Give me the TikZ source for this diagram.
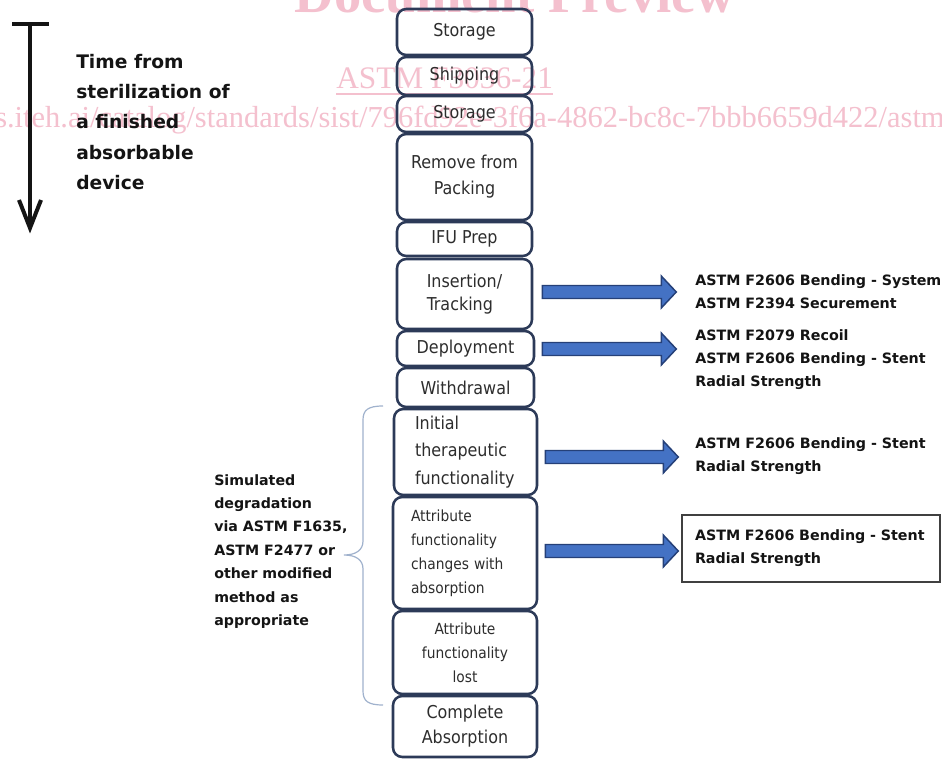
\documentclass[tikz,border=0pt]{standalone}
\usepackage{fontspec}
\setmainfont{DejaVu Sans}
\newfontfamily\boxfont{DejaVu Sans Condensed}
\newfontfamily\wmfont{Liberation Serif}
\usetikzlibrary{calc}
\definecolor{boxline}{RGB}{44,58,88}
\definecolor{boxtext}{RGB}{45,45,45}
\definecolor{arrowfill}{RGB}{68,114,196}
\definecolor{arrowline}{RGB}{37,64,120}
\definecolor{bracecol}{RGB}{160,178,205}
\definecolor{wmpink}{RGB}{244,192,206}
\definecolor{inktext}{RGB}{20,20,20}
\newcommand{\blockarrow}[2]{%
  \draw[blockarrowstyle] ($(#1)+(0,-6.5)$) -- ($(#2)+(-15,-6.5)$) -- ($(#2)+(-15,-16)$) -- (#2)
    -- ($(#2)+(-15,16)$) -- ($(#2)+(-15,6.5)$) -- ($(#1)+(0,6.5)$) -- cycle;}
\begin{document}
\begin{tikzpicture}[x=0.75pt,y=-0.75pt,
  stage/.style={draw=boxline, line width=1.9pt, rounded corners=7pt, inner sep=0pt,
    text=boxtext, align=center, font=\boxfont\fontsize{13.3}{19.5}\selectfont},
  smallstage/.style={stage, font=\boxfont\fontsize{11.5}{18}\selectfont},
  bigtext/.style={inner sep=0pt, text=inktext, align=left, font=\bfseries\fontsize{14}{22.8}\selectfont},
  testtext/.style={inner sep=0pt, text=inktext, align=left, font=\bfseries\fontsize{10.7}{17.25}\selectfont},
  blockarrowstyle/.style={fill=arrowfill, draw=arrowline, line width=1.1pt, line join=miter},
  timeline/.style={line width=3pt, draw=inktext},
  wm/.style={inner sep=0pt, text=wmpink}
]
\fill[white] (0,0) rectangle (942,759);
\useasboundingbox (0,0) rectangle (942,759);

% watermark
\begin{scope}
\clip (0,0) rectangle (942,759);
\node[wm, font=\wmfont\bfseries\fontsize{41}{41}\selectfont, anchor=base] (wm1) at (515,13) {Document Preview};
\node[wm, font=\wmfont\fontsize{23.5}{23.5}\selectfont, anchor=base west] (wm2) at (336,89) {ASTM F3036-21};
\draw[wmpink, line width=1.1pt] ($(wm2.base west)+(0,5)$) -- ($(wm2.base east)+(0,5)$);
\node[wm, font=\wmfont\fontsize{22.85}{22.85}\selectfont, anchor=base west] (wm3) at (-5,128) {s.iteh.ai/catalog/standards/sist/796fd92e-3f6a-4862-bc8c-7bbb6659d422/astm};
\end{scope}

% time arrow
\coordinate (tTop) at (30,24);
\coordinate (tBot) at (30,228);
\coordinate (tBarL) at (12,24);
\coordinate (tBarR) at (49,24);
\draw[timeline, line width=3.3pt] (tBarL) -- (tBarR);
\draw[timeline] (tTop) -- ($(tBot)+(0,-2)$);
\draw[timeline, line join=miter] ($(tBot)+(-11,-28)$) -- (tBot) -- ($(tBot)+(11,-28)$);
\node[bigtext, anchor=west] (timelbl) at (76,122) {Time from\\sterilization of\\a finished\\absorbable\\device};

% stages
\node[stage, minimum width=101.25pt, minimum height=34.5pt] (storage1) at (464.5,32) {Storage};
\node[stage, minimum width=101.25pt, minimum height=28.5pt] (shipping) at (464.5,76) {Shipping};
\node[stage, minimum width=101.25pt, minimum height=27pt] (storage2) at (464.5,114) {Storage};
\node[stage, minimum width=101.25pt, minimum height=64.5pt] (remove) at (464.5,177) {Remove from\\Packing};
\node[stage, minimum width=101.25pt, minimum height=25.5pt] (ifu) at (464.5,239) {IFU Prep};
\node[stage, minimum width=101.25pt, minimum height=52.5pt, align=left, font=\boxfont\fontsize{13.3}{16.8}\selectfont] (insertion) at (464.5,294) {Insertion/\\Tracking};
\node[stage, minimum width=102.75pt, minimum height=26.25pt] (deployment) at (465.5,348.5) {Deployment};
\node[stage, minimum width=102.75pt, minimum height=29.25pt] (withdrawal) at (465.5,387.5) {Withdrawal};
\node[stage, minimum width=107.25pt, minimum height=64.5pt, align=left, inner xsep=15.75pt, text width=75.75pt, font=\boxfont\fontsize{13.3}{20.5}\selectfont] (initial) at (465.5,452) {Initial\\therapeutic\\functionality};
\node[smallstage, minimum width=108pt, minimum height=84pt, align=left, inner xsep=13.5pt, text width=81pt] (attrchange) at (465,553) {Attribute\\functionality\\changes with\\absorption};
\node[smallstage, minimum width=108pt, minimum height=62.25pt] (lost) at (465,652.5) {Attribute\\functionality\\lost};
\node[stage, minimum width=108pt, minimum height=45.75pt, font=\boxfont\fontsize{13.3}{18.75}\selectfont] (complete) at (465,726.5) {Complete\\Absorption};

% brace
\draw[bracecol, line width=0.9pt] (383,406) .. controls (368,406) and (363,410) .. (363,420)
  -- (363,541) .. controls (363,550) and (356,555) .. (344,555)
  .. controls (356,555) and (363,560) .. (363,569)
  -- (363,691) .. controls (363,701) and (368,705) .. (383,705);
\node[inner sep=0pt, text=inktext, align=left, font=\bfseries\fontsize{10.65}{17.6}\selectfont, anchor=west] (simlbl) at (214,551.5)
  {Simulated\\degradation\\via ASTM F1635,\\ASTM F2477 or\\other modified\\method as\\appropriate};

% block arrows
\coordinate (a1s) at ($(insertion.east)+(9,-2)$);
\coordinate (a1e) at ($(a1s)+(134,0)$);
\coordinate (a2s) at ($(deployment.east)+(7,0.5)$);
\coordinate (a2e) at ($(a2s)+(134,0)$);
\coordinate (a3s) at ($(initial.east)+(7,5)$);
\coordinate (a3e) at ($(a3s)+(133,0)$);
\coordinate (a4s) at ($(attrchange.east)+(7,-2)$);
\coordinate (a4e) at ($(a4s)+(133,0)$);
\blockarrow{a1s}{a1e}
\blockarrow{a2s}{a2e}
\blockarrow{a3s}{a3e}
\blockarrow{a4s}{a4e}

% test texts
\node[testtext, anchor=west] (t1) at (695,291.5) {ASTM F2606 Bending - System\\ASTM F2394 Securement};
\node[testtext, anchor=west] (t2) at (695,360) {ASTM F2079 Recoil\\ASTM F2606 Bending - Stent\\Radial Strength};
\node[testtext, anchor=west] (t3) at (695,456.5) {ASTM F2606 Bending - Stent\\Radial Strength};
\node[testtext, draw=black!75, line width=0.9pt, inner sep=0pt, inner xsep=9.75pt, minimum width=193.5pt, minimum height=50.25pt, text width=174pt] (t4) at (811,548.5) {ASTM F2606 Bending - Stent\\Radial Strength};
\end{tikzpicture}
\end{document}
